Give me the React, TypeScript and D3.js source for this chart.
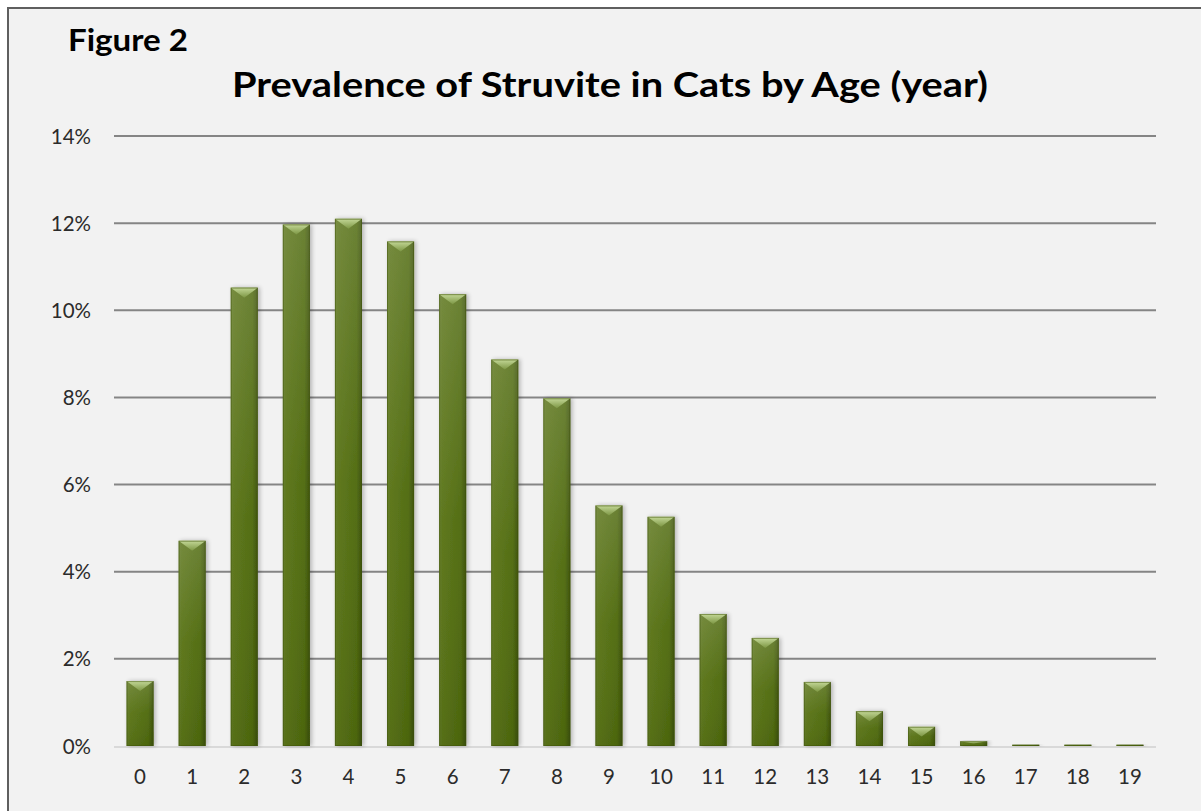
import React from "react";
import * as d3 from "d3";

const ages = ["0","1","2","3","4","5","6","7","8","9","10","11","12","13","14","15","16","17","18","19"];
const prevalence = [1.49, 4.71, 10.52, 11.97, 12.1, 11.58, 10.37, 8.87, 7.98, 5.52, 5.26, 3.03, 2.48, 1.47, 0.8, 0.44, 0.11, 0.03, 0.03, 0.03];
const yTicks = [0, 2, 4, 6, 8, 10, 12, 14];
const titleText = "Prevalence of Struvite in Cats by Age (year)";
const figureLabel = "Figure 2";

const W = 1201, H = 811;
const left = 114, right = 1156, top = 136, bottom = 746;

export default function App() {
  const x = d3.scaleBand<string>().domain(ages).range([left, right]).paddingInner(0.48).paddingOuter(0.24);
  const y = d3.scaleLinear().domain([0, 14]).range([bottom, top]);
  const bw = x.bandwidth();
  const font = "Lato, 'Open Sans', sans-serif";
  return (
    <svg width={W} height={H} style={{ position: "absolute", left: 0, top: 0 }}>
      <defs>
        <linearGradient id="barH" x1="0" x2="1" y1="0" y2="0">
          <stop offset="0" stopColor="#617a25" />
          <stop offset="0.12" stopColor="#5a7418" />
          <stop offset="0.8" stopColor="#4f6a0e" />
          <stop offset="1" stopColor="#3a4f08" />
        </linearGradient>
        <linearGradient id="barV" x1="0" x2="0" y1="0" y2="1">
          <stop offset="0" stopColor="#ffffff" stopOpacity="0.16" />
          <stop offset="0.5" stopColor="#ffffff" stopOpacity="0.03" />
          <stop offset="1" stopColor="#000000" stopOpacity="0.05" />
        </linearGradient>
        <linearGradient id="bevel" x1="0" x2="0" y1="0" y2="1">
          <stop offset="0" stopColor="#c8dc9c" />
          <stop offset="1" stopColor="#7e9845" />
        </linearGradient>
        <filter id="sh" x="-30%" y="-10%" width="160%" height="120%">
          <feGaussianBlur in="SourceAlpha" stdDeviation="2" />
          <feOffset dx="2" dy="0" result="b" />
          <feComponentTransfer><feFuncA type="linear" slope="0.25" /></feComponentTransfer>
          <feMerge><feMergeNode /><feMergeNode in="SourceGraphic" /></feMerge>
        </filter>
      </defs>
      <rect x={0} y={0} width={W} height={H} fill="#ffffff" />
      <rect x={8} y={8} width={W + 10} height={H + 10} fill="#f2f2f2" stroke="#5f5f5f" strokeWidth={2} />
      <text x={68} y={51} fontFamily={font} fontWeight={700} fontSize={31} fill="#000" textLength={120} lengthAdjust="spacingAndGlyphs">{figureLabel}</text>
      <text x={232} y={97} fontFamily={font} fontWeight={700} fontSize={34} fill="#000" textLength={756} lengthAdjust="spacingAndGlyphs">{titleText}</text>
      {yTicks.map((t) => (
        <g key={t}>
          {t > 0 && <line x1={left} x2={right} y1={y(t)} y2={y(t)} stroke="#858585" strokeWidth={2} />}
          <text x={91} y={y(t) + 7.5} textAnchor="end" fontFamily={font} fontSize={20.5} fill="#2b2b2b">{t}%</text>
        </g>
      ))}
      <line x1={left} x2={right} y1={bottom + 1} y2={bottom + 1} stroke="#d9d9d9" strokeWidth={2} />
      {ages.map((a, i) => {
        const v = prevalence[i];
        const x0 = x(a)!;
        const yt = y(v);
        const h = bottom - yt;
        const bev = Math.min(10, h / 2);
        return (
          <g key={a} filter="url(#sh)">
            <rect x={x0} y={yt} width={bw} height={h} fill="url(#barH)" />
            <rect x={x0} y={yt} width={bw} height={h} fill="url(#barV)" />
            {h > 2 && (
              <path d={`M${x0},${yt} L${x0 + bw},${yt} L${x0 + bw / 2},${yt + bev} Z`} fill="url(#bevel)" opacity={0.95} />
            )}
            <rect x={x0 + 0.5} y={yt + 0.5} width={bw - 1} height={Math.max(h - 1, 0)} fill="none" stroke="#3d5208" strokeOpacity={0.5} strokeWidth={1} />
          </g>
        );
      })}
      {ages.map((a) => (
        <text key={a} x={x(a)! + bw / 2} y={784} textAnchor="middle" fontFamily={font} fontSize={20.5} fill="#2b2b2b">{a}</text>
      ))}
    </svg>
  );
}
